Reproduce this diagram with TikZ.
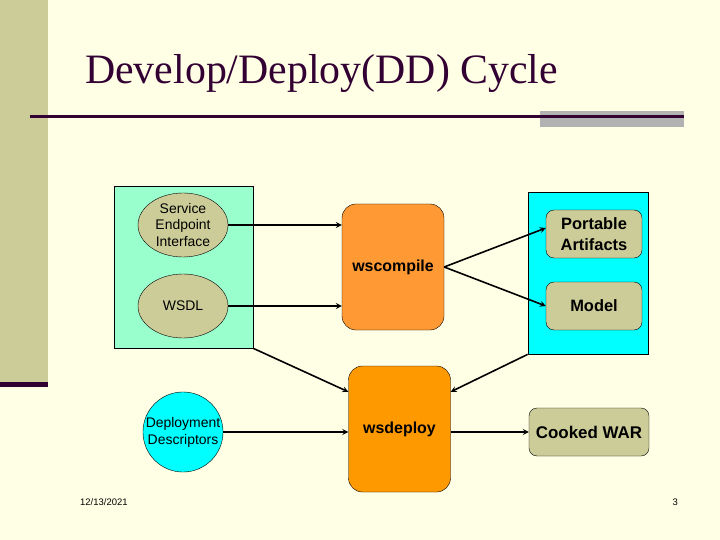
\documentclass[tikz,border=0pt]{standalone}
\usepackage{fontspec}
\setmainfont{Liberation Sans}
\newfontfamily\titlefont{Liberation Serif}
\usepackage{xcolor}
\usepackage{tikz}
\usetikzlibrary{shapes.geometric, arrows, positioning}

\definecolor{slidebg}{HTML}{FFFFE6}
\definecolor{tanbar}{HTML}{CCCC99}
\definecolor{plum}{HTML}{330033}
\definecolor{greybar}{HTML}{B2B2B2}
\definecolor{aqua}{HTML}{99FFCC}
\definecolor{cyanbox}{HTML}{00FFFF}
\definecolor{orangeA}{HTML}{FF9933}
\definecolor{orangeB}{HTML}{FF9900}

\begin{document}
\begin{tikzpicture}[x=1bp, y=-1bp,
    group/.style={rectangle, draw, line width=0.8bp, inner sep=0pt},
    oval/.style={ellipse, draw, fill=tanbar, minimum width=90bp, minimum height=64bp, inner sep=0pt, align=center, font=\fontsize{14}{17}\selectfont},
    tool/.style={rectangle, draw, rounded corners=14bp, minimum width=102bp, minimum height=126bp, inner sep=0pt, font=\bfseries\fontsize{16}{19}\selectfont},
    item/.style={rectangle, draw, fill=tanbar, rounded corners=8bp, minimum width=96bp, minimum height=48bp, inner sep=0pt, align=center, font=\bfseries\fontsize{16.5}{21}\selectfont},
    arrow/.style={line width=1.6bp,->,>=stealth}]

    % slide background
    \fill[slidebg] (0,0) rectangle (720,540);
    \useasboundingbox (0,0) rectangle (720,540);
    \fill[tanbar] (0,0) rectangle (48,382);
    \fill[plum] (0,382) rectangle (48,387);
    \fill[greybar] (540,111) rectangle (684,127);
    \draw[plum, line width=3bp] (30,117) -- (684,117);
    \node[anchor=base west, inner sep=0pt, text=plum, font=\titlefont\fontsize{42}{42}\selectfont] (title) at (85,84) {Develop/Deploy(DD) Cycle};

    % groups
    \node[group, fill=aqua, minimum width=139bp, minimum height=162bp] (src) at (183.5,267) {};
    \node[group, fill=cyanbox, minimum width=120bp, minimum height=162bp] (out) at (588,273) {};

    \node[oval] (sei) at (183,225) {Service\\Endpoint\\Interface};
    \node[oval] (wsdl) at (183,306) {WSDL};
    \node[circle, draw, fill=cyanbox, minimum size=74bp, inner sep=0pt, align=center, font=\fontsize{14}{17}\selectfont] (dd) at (183,432) {Deployment\\Descriptors};

    \node[tool, fill=orangeA] (wsc) at (393,267) {wscompile};
    \node[tool, fill=orangeB] (wsd) at (399.5,429) {wsdeploy};

    \node[item] (pa) at (594,234) {Portable\\Artifacts};
    \node[item] (model) at (594,306) {Model};
    \node[item, minimum width=120bp, font=\bfseries\fontsize{17}{20}\selectfont] (war) at (589,432) {Cooked WAR};

    \node[anchor=base west, inner sep=0pt, font=\fontsize{9.5}{11}\selectfont] (date) at (80,505) {12/13/2021};
    \node[anchor=base east, inner sep=0pt, font=\fontsize{9.5}{11}\selectfont] (page) at (678,505) {3};

    \draw[arrow] (sei.east) -- (sei.east -| wsc.west);
    \draw[arrow] (wsdl.east) -- (wsdl.east -| wsc.west);
    \draw[arrow] (wsc.east) -- ([yshift=6bp]pa.west);
    \draw[arrow] (wsc.east) -- (model.west);
    \draw[arrow] (src.south east) -- ([yshift=-26bp]wsd.north west);
    \draw[arrow] (out.south west) -- ([yshift=-26bp]wsd.north east);
    \draw[arrow] (dd.east) -- (dd.east -| wsd.west);
    \draw[arrow] (wsd.east |- war.west) -- (war.west);
\end{tikzpicture}
\end{document}
